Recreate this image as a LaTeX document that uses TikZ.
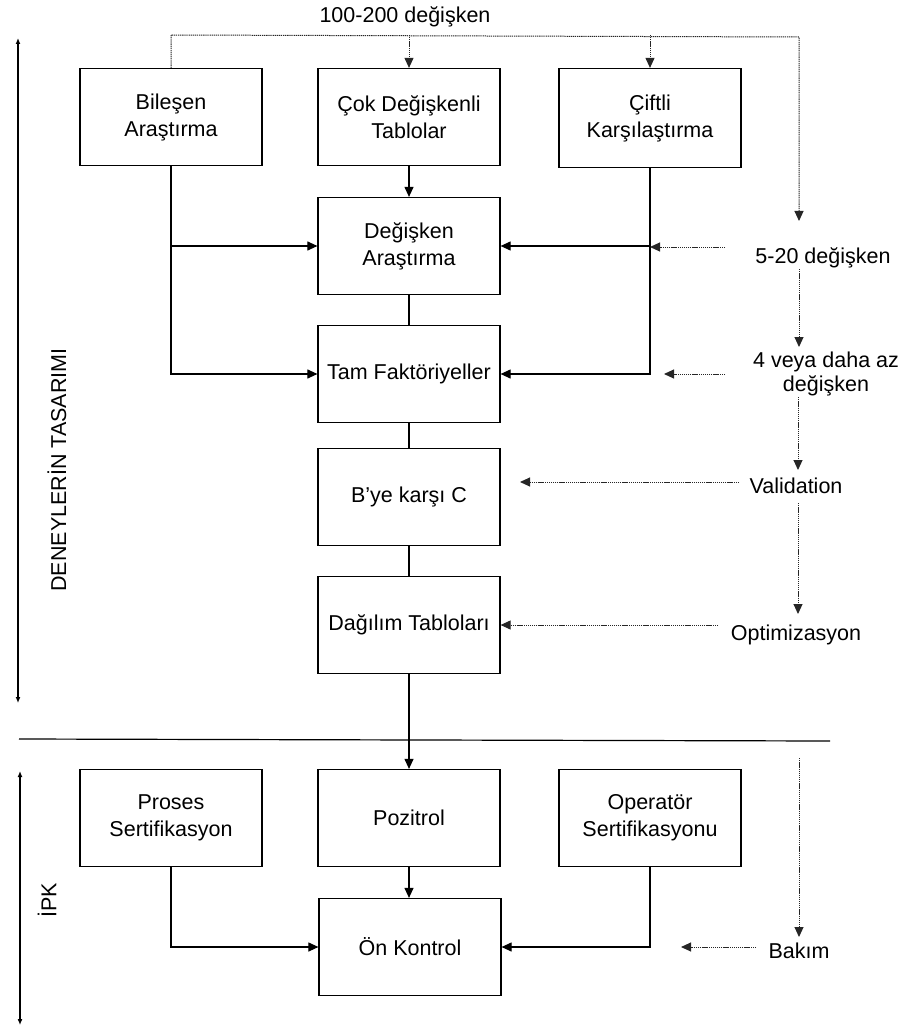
\documentclass[tikz,border=0pt]{standalone}
\usepackage{fontspec}
\setmainfont{Liberation Sans}
\usetikzlibrary{arrows.meta}
\begin{document}
\begin{tikzpicture}[x=1pt,y=-1pt,
  box/.style={draw, line width=1.2pt, minimum width=182pt, minimum height=97pt,
    align=center, inner sep=0pt, font=\fontsize{21.5}{27}\selectfont},
  lbl/.style={align=center, inner sep=0pt, font=\fontsize{21.5}{23.5}\selectfont},
  arr/.style={line width=1.1pt, -{Triangle[length=10pt,width=9pt]}},
  link/.style={line width=1.1pt},
  dotline/.style={line width=1pt, black!85, dash pattern=on 1.3pt off 0.8pt},
  dotarr/.style={dotline, -{Triangle[length=10pt,width=9pt]}},
  span/.style={line width=1.2pt, {Latex[length=6pt,width=5pt]}-{Latex[length=6pt,width=5pt]}}
]
\useasboundingbox (0,0) rectangle (900,1032);

% process boxes
\node[box] (bil) at (171,117) {Bileşen\\Araştırma};
\node[box] (cok) at (409,117) {Çok Değişkenli\\Tablolar};
\node[box, minimum height=99pt] (cif) at (650,118) {Çiftli\\Karşılaştırma};
\node[box] (deg) at (409,246) {Değişken\\Araştırma};
\node[box] (tam) at (409,374) {Tam Faktöriyeller};
\node[box] (bye) at (409,497) {B'ye karşı C};
\node[box] (dag) at (409,625) {Dağılım Tabloları};
\node[box] (pro) at (171,818) {Proses\\Sertifikasyon};
\node[box] (poz) at (409,818) {Pozitrol};
\node[box] (ope) at (650,818) {Operatör\\Sertifikasyonu};
\node[box] (onk) at (410,947) {Ön Kontrol};

% stage labels
\node[lbl] (ttl) at (405,17) {100-200 değişken};
\node[lbl] (l520) at (823,258) {5-20 değişken};
\node[lbl] (l4) at (826,374) {4 veya daha az\\değişken};
\node[lbl] (lval) at (796,486) {Validation};
\node[lbl] (lopt) at (796,635) {Optimizasyon};
\node[lbl] (lbak) at (799,951) {Bakım};

% section labels
\node[lbl, rotate=90] (doe) at (57,470) {DENEYLERİN TASARIMI};
\node[lbl, rotate=90] (ipk) at (47,900) {İPK};

% section spans and divider
\coordinate (doeTop) at (18,38);
\coordinate (doeBot) at (18,703);
\coordinate (ipkTop) at (20,771);
\coordinate (ipkBot) at (20,1025);
\draw[span] (doeTop) -- (doeBot);
\draw[span] (ipkTop) -- (ipkBot);
\coordinate (divL) at (19,739);
\coordinate (divR) at (830,741);
\draw[line width=1.2pt] (divL) -- (divR);

% solid flow
\draw[arr] (cok) -- (deg);
\draw[link] (deg) -- (tam);
\draw[link] (tam) -- (bye);
\draw[link] (bye) -- (dag);
\draw[arr] (dag) -- (poz);
\draw[arr] (poz.south) -- (poz.south |- onk.north);
\draw[arr] (bil.south) |- (tam.west);
\draw[arr] (bil.south |- deg.west) -- (deg.west);
\draw[arr] (cif.south) |- (tam.east);
\draw[arr] (cif.south |- deg.east) -- (deg.east);
\draw[arr] (pro.south) |- (onk.west);
\draw[arr] (ope.south) |- (onk.east);

% dotted guidance
\coordinate (topL) at (171,35);
\coordinate (topR) at (799,37);
\coordinate (t520) at (799,221);
\draw[dotarr] (bil.north) -- (bil.north |- topL) -- (topR) -- (t520);
\draw[dotarr] (cok.north |- topL) -- (cok.north);
\draw[dotarr] (cif.north |- topL) -- (cif.north);

\coordinate (s520) at (725,247);
\draw[dotarr] (s520) -- (cif.south |- s520);
\coordinate (a1) at (799,269);
\coordinate (b1) at (799,347);
\draw[dotarr] (a1) -- (b1);

\coordinate (s4) at (725,374);
\coordinate (t4) at (664,374);
\draw[dotarr] (s4) -- (t4);
\coordinate (a2) at (798,397);
\coordinate (b2) at (798,470);
\draw[dotarr] (a2) -- (b2);

\coordinate (sval) at (739,482);
\coordinate (tval) at (520,482);
\draw[dotarr] (sval) -- (tval);
\coordinate (a3) at (798,503);
\coordinate (b3) at (798,614);
\draw[dotarr] (a3) -- (b3);

\coordinate (sopt) at (718,625);
\draw[dotarr] (sopt) -- (dag.east |- sopt);

\coordinate (a4) at (799,758);
\coordinate (b4) at (799,937);
\draw[dotarr] (a4) -- (b4);
\coordinate (sbak) at (756,947);
\coordinate (tbak) at (681,947);
\draw[dotarr] (sbak) -- (tbak);
\end{tikzpicture}
\end{document}
